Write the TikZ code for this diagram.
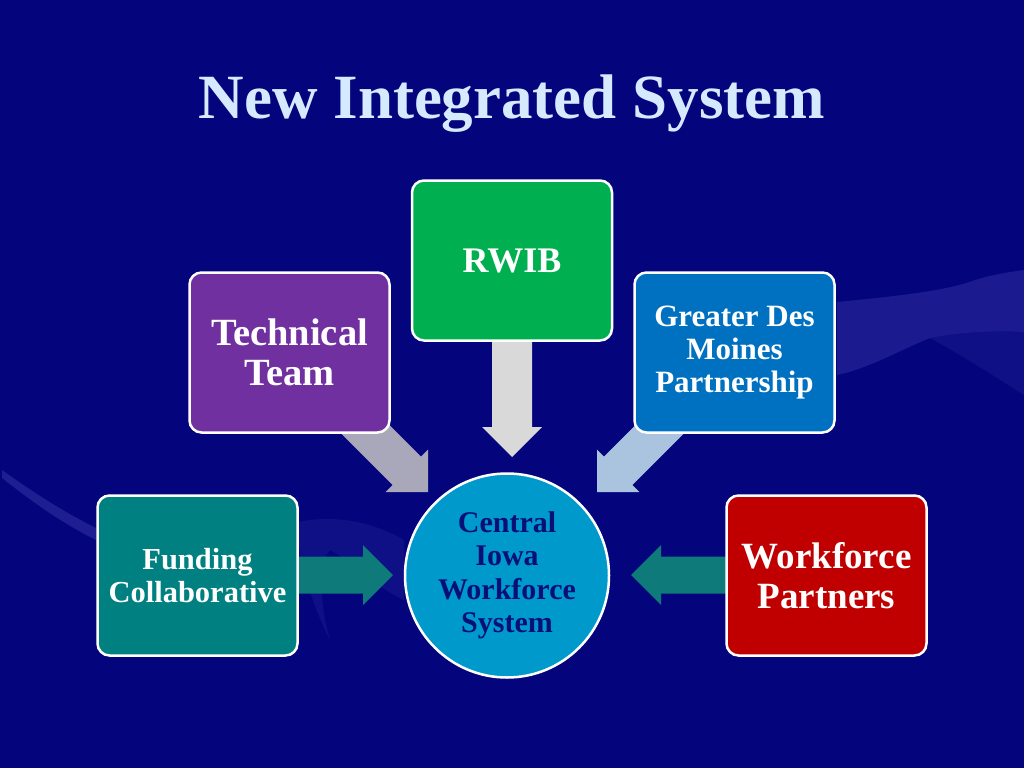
\documentclass[tikz,border=0pt]{standalone}
\usepackage{fontspec}
\setmainfont{Liberation Serif}
\definecolor{bgnavy}{RGB}{4,4,124}
\definecolor{swoosh}{RGB}{70,70,180}
\definecolor{titleblue}{RGB}{214,234,255}
\definecolor{techpurple}{RGB}{112,48,160}
\definecolor{rwibgreen}{RGB}{0,176,80}
\definecolor{gdmblue}{RGB}{0,112,192}
\definecolor{fundteal}{RGB}{0,128,128}
\definecolor{wpred}{RGB}{192,0,0}
\definecolor{circblue}{RGB}{0,153,204}
\definecolor{circtext}{RGB}{8,16,120}
\definecolor{arrgray}{RGB}{217,217,217}
\definecolor{arrslate}{RGB}{168,168,186}
\definecolor{arrpale}{RGB}{170,196,224}
\definecolor{arrteal}{RGB}{14,122,122}
\newcommand\myblockarrow[5]{% colour, tip coordinate, angle, length, shaft half-width
  \begin{scope}[shift={(#2)},rotate=#3]
    \fill[#1] (0,0) -- (-30,30) -- (-30,#5) -- (-#4,#5) -- (-#4,-#5) -- (-30,-#5) -- (-30,-30) -- cycle;
  \end{scope}}
\tikzset{
  box/.style={draw=white, line width=2.5pt, rounded corners=12pt,
    minimum width=200pt, minimum height=160pt, inner sep=2pt,
    text=white, align=center},
  hub/.style={circle, draw=white, line width=2.5pt, fill=circblue,
    minimum size=204pt, inner sep=0pt, text=circtext, align=center,
    font=\bfseries\fontsize{30}{33.5}\selectfont}
}
\begin{document}
\begin{tikzpicture}[x=1pt,y=-1pt]
  \fill[bgnavy] (0,0) rectangle (1024,768);
  \useasboundingbox (0,0) rectangle (1024,768);
  % background swooshes
  \fill[swoosh,opacity=.35] (837,302) .. controls (900,296) and (950,290) .. (975,280)
     .. controls (995,274) and (1010,272) .. (1024,270) -- (1024,332)
     .. controls (990,330) and (955,333) .. (930,338)
     .. controls (900,350) and (870,368) .. (837,375) -- cycle;
  \fill[swoosh,opacity=.18] (930,338) .. controls (970,360) and (1000,380) .. (1024,395)
     -- (1024,332) .. controls (990,330) and (955,333) .. (930,338) -- cycle;
  \fill[swoosh,opacity=.4] (2,470) .. controls (30,490) and (60,510) .. (96,528)
     -- (96,540) .. controls (60,522) and (30,500) .. (2,478) -- cycle;
  \fill[swoosh,opacity=.18] (299,522) .. controls (330,515) and (370,520) .. (404,540)
     -- (404,600) .. controls (380,590) and (350,560) .. (330,550)
     .. controls (320,560) and (318,600) .. (330,640) .. controls (310,600) and (300,560) .. (299,545) -- cycle;
  % title
  \node[anchor=base, text=titleblue, font=\bfseries\fontsize{63}{70}\selectfont]
     (title) at (512,118) {New Integrated System};
  % arrow tips
  \coordinate (tipRWIB) at (512,457);
  \coordinate (tipTech) at (428,492);
  \coordinate (tipGDM) at (597,492);
  \coordinate (tipFund) at (393,575);
  \coordinate (tipWP) at (631,575);
  % block arrows (drawn beneath the boxes)
  \myblockarrow{arrgray}{tipRWIB}{-90}{125}{20}
  \myblockarrow{arrslate}{tipTech}{-45}{105}{20}
  \myblockarrow{arrpale}{tipGDM}{-135}{105}{20}
  \myblockarrow{arrteal}{tipFund}{0}{103}{18.5}
  \myblockarrow{arrteal}{tipWP}{180}{103}{18.5}
  % boxes
  \node[box, fill=techpurple, font=\bfseries\fontsize{38.5}{40}\selectfont]
     (tech) at (289.5,352.5) {Technical\\Team};
  \node[box, fill=rwibgreen, font=\bfseries\fontsize{36}{38}\selectfont]
     (rwib) at (512,260.5) {RWIB};
  \node[box, fill=gdmblue, font=\bfseries\fontsize{31}{33}\selectfont]
     (gdm) at (734.5,352.5) {Greater Des\\Moines\\Partnership};
  \node[box, fill=fundteal, font=\bfseries\fontsize{30.5}{33}\selectfont]
     (fund) at (197.5,575.5) {Funding\\Collaborative};
  \node[box, fill=wpred, font=\bfseries\fontsize{37}{40}\selectfont]
     (wp) at (826.5,575.5) {Workforce\\Partners};
  \node[hub] (hubnode) at (507,575.5) {Central\\Iowa\\Workforce\\System};
\end{tikzpicture}
\end{document}
